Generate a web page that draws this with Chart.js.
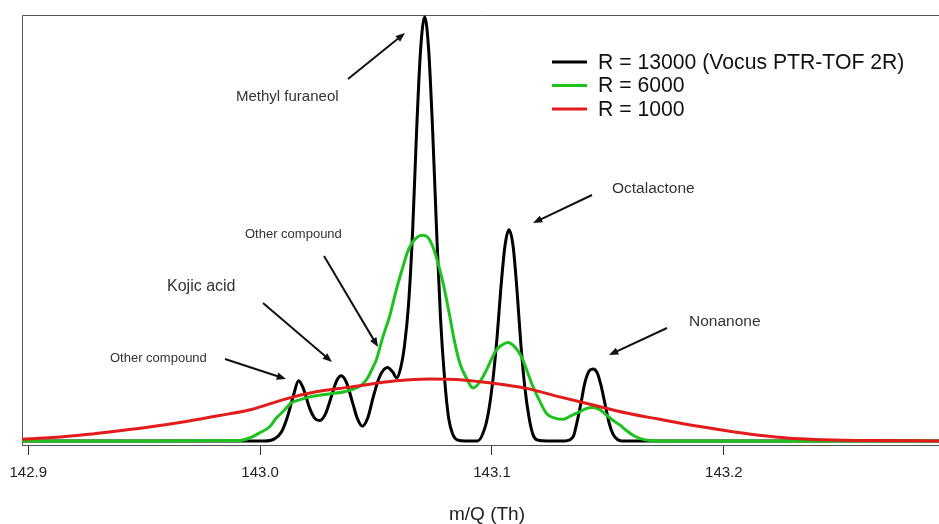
<!DOCTYPE html>
<html>
<head>
<meta charset="utf-8">
<script src="https://cdn.jsdelivr.net/npm/chart.js@4.4.1/dist/chart.umd.min.js"></script>
<style>
  html, body { margin: 0; padding: 0; background: #fff; }
  #wrap { width: 939px; height: 524px; }
</style>
</head>
<body>
<div id="wrap"><canvas id="myChart" width="939" height="524"></canvas></div>
<script>
// m/Q values and relative intensities
const blackMz = [142.8973, 142.9523, 143.0019, 143.0062, 143.0092, 143.0118, 143.0144, 143.0166, 143.0187, 143.0213,
  143.0235, 143.0256, 143.0282, 143.0308, 143.0330, 143.0350, 143.0373, 143.0399, 143.0420, 143.0441,
  143.0464, 143.0489, 143.0515, 143.0549, 143.0571, 143.0589, 143.0606, 143.0623, 143.0640, 143.0658,
  143.0675, 143.0692, 143.0710, 143.0727, 143.0744, 143.0761, 143.0778, 143.0796, 143.0813, 143.0830,
  143.0852, 143.0886, 143.0938, 143.0970, 143.0987, 143.1004, 143.1022, 143.1039, 143.1056, 143.1073,
  143.1091, 143.1108, 143.1125, 143.1142, 143.1160, 143.1177, 143.1197, 143.1240, 143.1314, 143.1350,
  143.1367, 143.1384, 143.1401, 143.1419, 143.1436, 143.1453, 143.1470, 143.1488, 143.1505, 143.1522,
  143.1540, 143.1560, 143.1637, 143.2928];
const blackInt = [0, 0, 0, 0.5, 2.1, 5.7, 10.8, 14.2, 12.3, 7.8,
  5.4, 4.8, 6.4, 10.6, 14.2, 15.4, 13.7, 9.0, 5.2, 3.5,
  5.4, 10.6, 15.1, 17.3, 16.3, 14.9, 17.2, 22.6, 32.1, 49.8,
  73.3, 92.2, 100, 92.2, 73.3, 49.8, 29.0, 14.4, 5.4, 1.7,
  0.2, 0, 0, 3.2, 7.5, 14.4, 24.5, 36.5, 46.0, 49.8,
  46.0, 35.5, 22.5, 12.5, 5.5, 1.5, 0.2, 0, 0, 1.0,
  4.5, 9.0, 13.8, 16.5, 17.0, 16.2, 13.2, 8.6, 4.3, 1.6,
  0.4, 0, 0, 0];

const greenMz = [142.8973, 142.9523, 142.9911, 142.9954, 142.9997, 143.0040, 143.0070, 143.0105, 143.0135, 143.0170,
  143.0213, 143.0256, 143.0312, 143.0364, 143.0415, 143.0442, 143.0464, 143.0485, 143.0501, 143.0528,
  143.0558, 143.0587, 143.0616, 143.0636, 143.0659, 143.0679, 143.0700, 143.0722, 143.0745, 143.0766,
  143.0789, 143.0817, 143.0839, 143.0861, 143.0889, 143.0918, 143.0947, 143.0976, 143.1019, 143.1042,
  143.1069, 143.1098, 143.1127, 143.1150, 143.1177, 143.1206, 143.1235, 143.1271, 143.1307, 143.1340,
  143.1379, 143.1409, 143.1436, 143.1465, 143.1494, 143.1521, 143.1551, 143.1577, 143.1607, 143.1637,
  143.1681, 143.1724, 143.2928];
const greenInt = [0, 0, 0.1, 0.7, 1.9, 3.3, 5.4, 7.3, 9.0, 9.7,
  10.4, 10.8, 11.2, 11.6, 12.5, 13.4, 14.9, 17.2, 19.1, 24.3,
  29.3, 35.6, 41.1, 44.6, 47.0, 48.1, 48.5, 48.1, 45.8, 42.2,
  37.3, 29.7, 23.3, 18.4, 14.9, 12.5, 13.9, 16.7, 21.5, 22.6,
  23.2, 22.2, 19.9, 16.7, 12.8, 9.4, 6.5, 5.4, 5.1, 5.9,
  6.9, 7.7, 7.9, 7.4, 6.1, 4.9, 3.8, 2.6, 1.4, 0.6,
  0.1, 0, 0];

const redMz = [142.8973, 142.9104, 142.9249, 142.9393, 142.9536, 142.9681, 142.9825, 142.9967, 143.0097, 143.0242,
  143.0386, 143.0587, 143.0731, 143.0874, 143.1004, 143.1148, 143.1292, 143.1436, 143.1580, 143.1724,
  143.1897, 143.2039, 143.2184, 143.2329, 143.2471, 143.2616, 143.2928];
const redInt = [0.4, 0.8, 1.5, 2.4, 3.4, 4.6, 6.0, 7.5, 9.7, 11.6,
  12.7, 14.2, 14.6, 14.4, 13.6, 12.4, 10.4, 8.5, 6.6, 5.1,
  3.4, 2.2, 1.2, 0.5, 0.2, 0.1, 0];

const seriesNames = ['R = 13000 (Vocus PTR-TOF 2R)', 'R = 6000', 'R = 1000'];
const seriesColors = ['#000000', '#1ec21e', '#e21b1b'];
const tickValues = [142.9, 143.0, 143.1, 143.2];
const axisTitle = 'm/Q (Th)';

// text labels with arrows (pixel positions on the page)
const notes = [
  { text: 'Methyl furaneol', x: 236, y: 97, size: 15, from: [348, 79], to: [405, 33] },
  { text: 'Octalactone', x: 612, y: 189, size: 15.5, from: [592, 195], to: [533, 223] },
  { text: 'Other compound', x: 245, y: 234, size: 13, from: [324, 256], to: [378, 347] },
  { text: 'Kojic acid', x: 167, y: 287, size: 16, from: [263, 303], to: [332, 362] },
  { text: 'Nonanone', x: 689, y: 322, size: 15.5, from: [667, 328], to: [609, 355] },
  { text: 'Other compound', x: 110, y: 358, size: 13, from: [225, 359], to: [286, 379] }
];

const FONT = '"Liberation Sans", Arial, sans-serif';

function toPoints(xs, ys) {
  return xs.map((x, i) => ({ x: x, y: ys[i] }));
}

const frame = {
  id: 'frame',
  beforeDatasetsDraw(chart) {
    const a = chart.chartArea;
    const ctx = chart.ctx;
    ctx.save();
    ctx.strokeStyle = '#555';
    ctx.lineWidth = 1;
    ctx.beginPath();
    ctx.moveTo(a.left + 0.5, a.bottom);
    ctx.lineTo(a.left + 0.5, a.top + 0.5);
    ctx.lineTo(a.right, a.top + 0.5);
    ctx.stroke();
    ctx.restore();
  },
  afterDraw(chart) {
    const ctx = chart.ctx;
    ctx.save();
    // axis title, a bit right of the plot centre like the original
    ctx.font = '19px ' + FONT;
    ctx.fillStyle = '#222';
    ctx.textAlign = 'center';
    ctx.textBaseline = 'middle';
    ctx.fillText(axisTitle, 487, 515);
    ctx.textAlign = 'left';
    // legend
    ctx.font = '21.2px ' + FONT;
    const rows = [62, 85.5, 109];
    chart.data.datasets.forEach((ds, i) => {
      ctx.strokeStyle = seriesColors[i];
      ctx.lineWidth = 3;
      ctx.beginPath();
      ctx.moveTo(552, rows[i]);
      ctx.lineTo(587, rows[i]);
      ctx.stroke();
      ctx.fillStyle = '#111';
      ctx.fillText(seriesNames[i], 598, rows[i] + 1);
    });
    // annotations
    notes.forEach(n => {
      ctx.font = n.size + 'px ' + FONT;
      ctx.fillStyle = '#333';
      ctx.fillText(n.text, n.x, n.y);
      const ang = Math.atan2(n.to[1] - n.from[1], n.to[0] - n.from[0]);
      const head = 10;
      ctx.strokeStyle = '#111';
      ctx.fillStyle = '#111';
      ctx.lineWidth = 2;
      ctx.beginPath();
      ctx.moveTo(n.from[0], n.from[1]);
      ctx.lineTo(n.to[0] - Math.cos(ang) * head * 0.8, n.to[1] - Math.sin(ang) * head * 0.8);
      ctx.stroke();
      ctx.beginPath();
      ctx.moveTo(n.to[0], n.to[1]);
      ctx.lineTo(n.to[0] - head * Math.cos(ang - 0.38), n.to[1] - head * Math.sin(ang - 0.38));
      ctx.lineTo(n.to[0] - head * Math.cos(ang + 0.38), n.to[1] - head * Math.sin(ang + 0.38));
      ctx.closePath();
      ctx.fill();
    });
    ctx.restore();
  }
};

const data = {
  datasets: [
    { label: seriesNames[0], data: toPoints(blackMz, blackInt), borderColor: seriesColors[0], order: 3 },
    { label: seriesNames[1], data: toPoints(greenMz, greenInt), borderColor: seriesColors[1], order: 2 },
    { label: seriesNames[2], data: toPoints(redMz, redInt), borderColor: seriesColors[2], order: 1 }
  ]
};

const config = {
  type: 'line',
  data: data,
  options: {
    responsive: false,
    animation: false,
    layout: { padding: { left: 22, top: 15, right: 0, bottom: 33 } },
    datasets: {
      line: {
        borderWidth: 3,
        pointRadius: 0,
        fill: false,
        cubicInterpolationMode: 'monotone'
      }
    },
    plugins: {
      legend: { display: false },
      tooltip: { enabled: false }
    },
    scales: {
      x: {
        type: 'linear',
        min: 142.8973,
        max: 143.2928,
        afterBuildTicks: (scale) => {
          scale.ticks = tickValues.map(v => ({ value: v }));
        },
        grid: { drawOnChartArea: false, tickLength: 10, color: '#333', tickColor: '#333' },
        border: { display: true, color: '#555', width: 1 },
        ticks: {
          padding: 9,
          color: '#222',
          font: { family: FONT, size: 15 },
          callback: (v) => Number(v).toFixed(1),
          maxRotation: 0
        }
      },
      y: {
        display: false,
        min: -0.95,
        max: 100.47
      }
    }
  },
  plugins: [frame]
};

var ctx = document.getElementById('myChart');
var myChart = new Chart(ctx, config);
</script>
</body>
</html>
